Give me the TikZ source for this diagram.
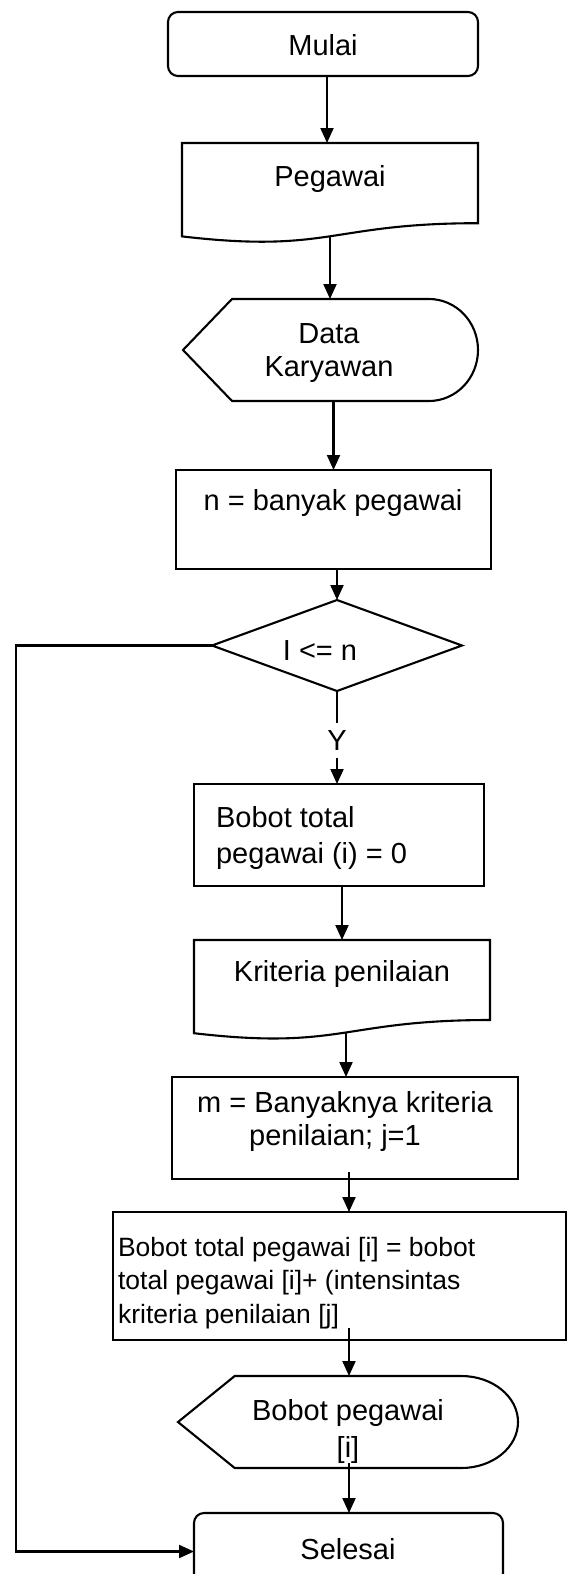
\documentclass[tikz,border=0pt]{standalone}
\usepackage{fontspec}
\setmainfont{Liberation Sans}
\usetikzlibrary{arrows.meta,calc}
\begin{document}
\begin{tikzpicture}[x=1pt,y=-1pt,
  line width=2.1pt,
  frame/.style={inner sep=0pt,outer sep=0pt},
  boxed/.style={frame,draw},
  outline/.style={draw,line join=miter},
  lbl/.style={inner sep=0pt,anchor=base,align=center,font=\fontsize{29}{33}\selectfont},
  lbll/.style={inner sep=0pt,anchor=base west,align=left,font=\fontsize{29}{36}\selectfont},
  arr/.style={-{Triangle[length=15pt,width=13pt]}}
]
\useasboundingbox (0,0) rectangle (568,1574);

% terminator: start
\node[boxed,rounded corners=10pt,minimum width=310pt,minimum height=64pt] (start) at (323,44) {};
\node[lbl] (t-start) at (323,55) {Mulai};

% document: Pegawai
\node[frame,minimum width=296pt,minimum height=100pt] (peg) at (330,193) {};
\draw[outline] (peg.north west) -- (peg.north east) -- ($(peg.north east)+(0,80.2)$)
  .. controls ($(peg.north)+(0,80.2)$) and ($(peg.north)+(0,110.7)$) .. ($(peg.north west)+(0,93.4)$) -- cycle;
\node[lbl] (t-peg) at (330,186) {Pegawai};

% display: Data Karyawan
\node[frame,minimum width=295pt,minimum height=102pt] (data) at (330.5,350) {};
\draw[outline] (data.west) -- ($(data.north west)+(49,0)$) -- ($(data.north east)+(-49,0)$)
  arc[start angle=90,end angle=-90,x radius=49pt,y radius=51pt]
  -- ($(data.south west)+(49,0)$) -- cycle;
\node[lbl] (t-data) at (329,376) {Data\\Karyawan};

% process: n
\node[boxed,minimum width=315pt,minimum height=99pt] (nbox) at (333.5,519.5) {};
\node[lbl] (t-nbox) at (333,510) {n = banyak pegawai};

% decision
\node[frame,minimum width=250pt,minimum height=91pt] (dia) at (337,645.5) {};
\draw[outline] (dia.north) -- (dia.east) -- (dia.south) -- (dia.west) -- cycle;
\node[lbl] (t-dia) at (320,660) {I <= n};

% process: bobot total
\node[boxed,minimum width=290pt,minimum height=102pt] (b1) at (339,835) {};
\node[lbll] (t-b1) at (215,863) {Bobot total\\pegawai (i) = 0};

% document: Kriteria penilaian
\node[frame,minimum width=296pt,minimum height=99.7pt] (krit) at (342,989.85) {};
\draw[outline] (krit.north west) -- (krit.north east) -- ($(krit.north east)+(0,80)$)
  .. controls ($(krit.north)+(0,80)$) and ($(krit.north)+(0,110.4)$) .. ($(krit.north west)+(0,93.2)$) -- cycle;
\node[lbl] (t-krit) at (342,981) {Kriteria penilaian};

% process: m
\node[boxed,minimum width=346pt,minimum height=102pt] (mbox) at (345,1128) {};
\node[lbl] (t-mbox) at (345,1145) {m = Banyaknya kriteria\\penilaian; j=1\hspace*{20pt}};

% process: accumulation
\node[boxed,minimum width=453pt,minimum height=128pt] (big) at (339.5,1276) {};
\node[lbll,font=\fontsize{26.5}{33.3}\selectfont] (t-big) at (117,1323)
  {Bobot total pegawai {[i]} = bobot\\total pegawai {[i]}+ (intensintas\\kriteria penilaian {[j]}};

% display: Bobot pegawai
\node[frame,minimum width=340pt,minimum height=92pt] (disp) at (348,1422) {};
\draw[outline] (disp.west) -- ($(disp.north west)+(56.7,0)$) -- ($(disp.north east)+(-56.7,0)$)
  arc[start angle=90,end angle=-90,x radius=56.7pt,y radius=46pt]
  -- ($(disp.south west)+(56.7,0)$) -- cycle;
\node[lbl,font=\fontsize{29}{37}\selectfont] (t-disp) at (348,1457) {Bobot pegawai\\{[i]}};

% terminator: end
\node[boxed,rounded corners=10pt,minimum width=309pt,minimum height=77pt] (end) at (348.5,1551.5) {};
\node[lbl] (t-end) at (348,1559) {Selesai};

% connectors
\draw[arr] ([xshift=4pt]start.south) -- ([xshift=4pt]start.south |- peg.north);
\draw[arr] ($(peg.north)+(0,93.2)$) -- (peg.north |- data.north);
\draw[arr] (nbox.north |- data.south) -- (nbox.north);
\draw[arr] (dia.north |- nbox.south) -- (dia.north);
\draw[arr] (dia.south) -- node[fill=white,inner xsep=2pt,inner ysep=7.3pt,yshift=-3pt,font=\fontsize{29}{33}\selectfont] (ylab) {Y} (dia.south |- b1.north);
\draw[arr] (krit.north |- b1.south) -- (krit.north);
\draw[arr] ($(krit.north)+(4,93)$) coordinate (k1) -- (k1 |- mbox.north);
\draw[arr] ($(mbox.south)+(4,-7)$) coordinate (m1) -- (m1 |- big.north);
\draw[arr] ($(disp.north |- big.south)+(1,-12)$) coordinate (g1) -- (g1 |- disp.north);
\draw[arr] ($(disp.south)+(1,-5)$) coordinate (d1) -- (d1 |- end.north);
\draw[arr] (dia.west) -- ++(-196,0) |- (end.west);
\end{tikzpicture}
\end{document}
